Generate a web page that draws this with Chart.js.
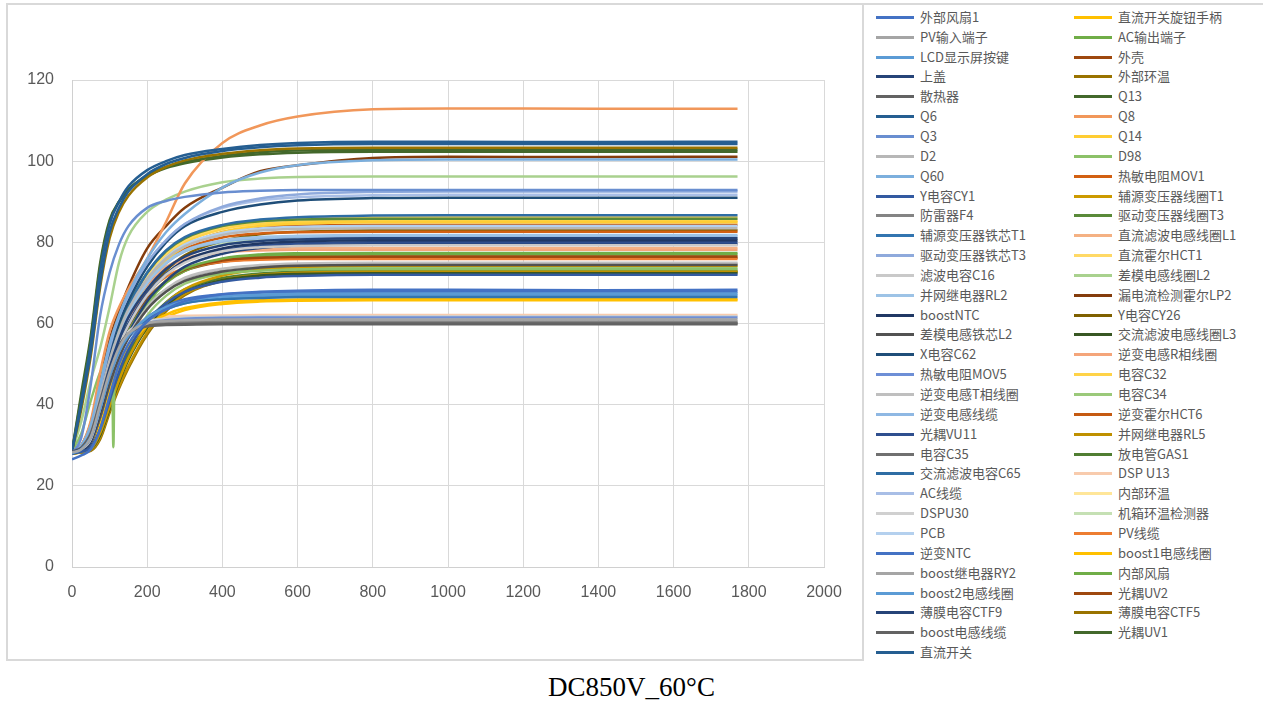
<!DOCTYPE html>
<html>
<head>
<meta charset="utf-8">
<script src="https://cdn.jsdelivr.net/npm/chart.js@4.4.1/dist/chart.umd.min.js"></script>
<style>
  body { margin: 0; background: #fff; width: 1263px; height: 707px; overflow: hidden; position: relative; }
  #frame { position: absolute; left: 6px; top: 3px; width: 858px; height: 658px; border: 2px solid #d9d9d9; box-sizing: border-box; }
  #topline { position: absolute; left: 864px; top: 3px; width: 399px; height: 2px; background: #d9d9d9; }
  #wrap { position: absolute; left: 0; top: 0; width: 863px; height: 660px; }
  #legend { position: absolute; left: 0; top: 0; }
  .sw { position: absolute; width: 38px; height: 3px; }
  .lt { position: absolute; font: 13px "Noto Sans CJK SC", sans-serif; color: #595959; line-height: 18px; white-space: nowrap; }
  #caption { position: absolute; left: 0; width: 1263px; top: 674px; text-align: center; font: 27px "Liberation Serif", serif; line-height: 27px; color: #000; }
</style>
</head>
<body>
<div id="frame"></div>
<div id="topline"></div>
<div id="wrap"><canvas id="chart" width="863" height="660"></canvas></div>
<div id="legend"></div>
<div id="caption">DC850V_60°C</div>
<script>
// time axis samples (s)
const times = [0, 25, 50, 75, 100, 125, 150, 200, 250, 300, 400, 500, 600, 800, 1000, 1400, 1770];

// series names, legend order (left column then right column)
const names = [
    '外部风扇1', 'PV输入端子', 'LCD显示屏按键', '上盖', '散热器', 'Q6', 'Q3', 'D2', 'Q60', 'Y电容CY1', '防雷器F4',
    '辅源变压器铁芯T1', '驱动变压器铁芯T3', '滤波电容C16', '并网继电器RL2', 'boostNTC', '差模电感铁芯L2', 'X电容C62',
    '热敏电阻MOV5', '逆变电感T相线圈', '逆变电感线缆', '光耦VU11', '电容C35', '交流滤波电容C65', 'AC线缆', 'DSPU30',
    'PCB', '逆变NTC', 'boost继电器RY2', 'boost2电感线圈', '薄膜电容CTF9', 'boost电感线缆', '直流开关',
    '直流开关旋钮手柄', 'AC输出端子', '外壳', '外部环温', 'Q13', 'Q8', 'Q14', 'D98', '热敏电阻MOV1', '辅源变压器线圈T1',
    '驱动变压器线圈T3', '直流滤波电感线圈L1', '直流霍尔HCT1', '差模电感线圈L2', '漏电流检测霍尔LP2', 'Y电容CY26',
    '交流滤波电感线圈L3', '逆变电感R相线圈', '电容C32', '电容C34', '逆变霍尔HCT6', '并网继电器RL5', '放电管GAS1',
    'DSP U13', '内部环温', '机箱环温检测器', 'PV线缆', 'boost1电感线圈', '内部风扇', '光耦UV2', '薄膜电容CTF5', '光耦UV1'
];

const colors = [
    '#4472C4', '#A5A5A5', '#5B9BD5', '#264478', '#636363', '#255E91', '#698ED0', '#B7B7B7', '#7CAFDD', '#335AA1', '#848484',
    '#3275B0', '#8FAADC', '#C9C9C9', '#9DC3E6', '#203864', '#525252', '#1F4E79', '#6E8FD6', '#BFBFBF', '#8FB8E3', '#2F4F8F',
    '#707070', '#2E6DA4', '#A8BEE6', '#D0D0D0', '#B4D0EE', '#4472C4', '#A5A5A5', '#5B9BD5', '#264478', '#636363', '#255E91',
    '#FFC000', '#70AD47', '#9E480E', '#997300', '#43682B', '#F1975A', '#FFCD33', '#8CC168', '#D26012', '#CC9A00', '#5A8A39',
    '#F4B183', '#FFD966', '#A9D18E', '#843C0C', '#7F6000', '#385723', '#F4A57A', '#FFD348', '#9BC97A', '#C55A11', '#BF9000',
    '#507E32', '#F8CBAD', '#FFE699', '#C5E0B4', '#ED7D31', '#FFC000', '#70AD47', '#9E480E', '#997300', '#43682B'
];

// temperatures (°C) at each time sample, same order as names
const temps = [
    [26.5, 27.5, 29, 34, 42, 50, 55, 60.5, 63.5, 65.5, 67.2, 67.8, 68.1, 68.3, 68.3, 68.2, 68.3],
    [28.2, 29, 32, 40, 48, 54, 57.5, 60, 60.6, 60.8, 61, 61, 61.1, 61, 61, 61.1, 61],
    [28, 29, 32, 39, 47, 53, 57, 61.5, 64, 65.5, 66.7, 67.1, 67.3, 67.4, 67.4, 67.4, 67.4],
    [28.3, 29.2, 32, 40, 49, 56, 61.5, 68.5, 73.5, 76.5, 79.3, 80.3, 80.7, 81, 81, 81, 81],
    [28.5, 29.5, 33, 41, 49, 54.5, 57.5, 59.5, 59.8, 59.9, 60, 60, 60, 60, 60, 60, 60],
    [28.5, 41, 55, 73, 84.5, 90, 93.8, 97.8, 100, 101.5, 103, 104, 104.5, 104.8, 104.8, 104.7, 104.8],
    [28, 32, 45, 62, 72.5, 79.5, 84, 88.5, 90.2, 91.2, 92.3, 92.7, 92.9, 92.9, 92.9, 92.9, 92.9],
    [28.5, 29.5, 33, 42, 51, 58, 63.5, 71, 76, 79, 81.8, 82.9, 83.3, 83.5, 83.5, 83.5, 83.5],
    [28.5, 30, 35, 45, 55, 62, 67.5, 76, 82.5, 87, 93.5, 97.2, 99, 100.2, 100.4, 100.4, 100.4],
    [28, 28.4, 29.5, 34, 41, 48, 53.5, 60.5, 65, 67.8, 70.3, 71.3, 71.7, 72, 72, 72, 72],
    [28.3, 29.2, 32.5, 40.5, 48.5, 54, 57.5, 59.8, 60.2, 60.4, 60.5, 60.5, 60.5, 60.5, 60.5, 60.5, 60.5],
    [28, 29, 32.5, 40, 48, 53.5, 57, 61, 63.5, 65, 66, 66.3, 66.5, 66.5, 66.5, 66.5, 66.5],
    [28, 29.5, 34, 44, 54, 61.5, 67, 75, 80.5, 84.5, 88.8, 90.8, 91.8, 92.4, 92.5, 92.5, 92.5],
    [28.2, 29, 31.5, 39, 47.5, 54.5, 59.5, 67, 72, 75, 77.8, 78.8, 79.1, 79.3, 79.3, 79.3, 79.3],
    [28.5, 29.5, 32.5, 41, 50, 57, 62.5, 70, 75, 78, 80.5, 81.3, 81.6, 81.8, 81.8, 81.8, 81.8],
    [28, 28.8, 31, 38.5, 47, 54, 59.5, 67, 72, 75.5, 78.5, 79.7, 80.2, 80.5, 80.5, 80.5, 80.5],
    [28.3, 29, 31, 37, 45, 51.5, 56.5, 63.5, 67.8, 70.5, 72.8, 73.8, 74.2, 74.4, 74.4, 74.4, 74.4],
    [28.5, 29.8, 33.5, 43, 52.5, 60, 65.5, 74, 80, 84, 87.5, 89.3, 90.3, 90.9, 91, 91, 91],
    [28, 29, 32, 39.5, 47.5, 53.5, 57, 60, 60.8, 61.2, 61.4, 61.5, 61.5, 61.5, 61.5, 61.5, 61.5],
    [28.3, 29, 31, 37.5, 45.5, 52, 57, 64, 68.5, 71.3, 73.5, 74.4, 74.8, 75, 75, 75, 75],
    [28.5, 29.5, 33, 41.5, 50.5, 57.5, 62.5, 70, 74.8, 77.8, 80.2, 81, 81.3, 81.5, 81.5, 81.5, 81.5],
    [28, 28.8, 31.5, 39.5, 48, 55, 60, 67.5, 72.3, 75.3, 78, 79.2, 79.7, 80, 80, 80, 80],
    [28.5, 29.3, 32.5, 40.5, 48.5, 54, 57.3, 59.5, 59.9, 60.1, 60.2, 60.2, 60.2, 60.2, 60.2, 60.2, 60.2],
    [28.5, 29.5, 33, 42, 51, 58, 64, 72.5, 78, 81.3, 84.3, 85.6, 86.2, 86.6, 86.7, 86.7, 86.7],
    [28, 29.5, 34.5, 44.5, 54, 61, 66.5, 74.5, 80.5, 84.5, 88.5, 90.3, 91.1, 91.6, 91.7, 91.7, 91.7],
    [28.5, 29.5, 33, 41, 49, 54.5, 58, 60.5, 61.2, 61.5, 61.7, 61.8, 61.8, 61.8, 61.8, 61.8, 61.8],
    [28.5, 29.5, 33, 42, 51, 58, 63, 71, 76.3, 79.5, 82.3, 83.4, 83.8, 84, 84, 84, 84],
    [28, 28.8, 31.5, 38.5, 46.5, 52.5, 56.5, 61.5, 64.3, 66, 67.2, 67.6, 67.8, 67.8, 67.8, 67.8, 67.8],
    [28.2, 28.8, 31, 37, 45, 51.5, 56.5, 63.5, 68, 71, 73.3, 74.2, 74.5, 74.7, 74.7, 74.7, 74.7],
    [28, 29, 32, 39.5, 47.5, 53, 56.5, 61, 63.5, 65, 66.2, 66.7, 66.9, 67, 67, 67, 67],
    [28, 28.6, 30.5, 37, 45.5, 52.5, 57.5, 65.5, 70.5, 74, 77.2, 78.6, 79.2, 79.5, 79.5, 79.5, 79.5],
    [28.2, 29, 32, 40, 48, 53.5, 57, 59.3, 59.6, 59.7, 59.8, 59.8, 59.8, 59.8, 59.8, 59.8, 59.8],
    [28.5, 40, 53, 70, 82.5, 88.5, 92.5, 96.8, 99.3, 100.8, 102.5, 103.4, 103.9, 104.2, 104.2, 104.2, 104.2],
    [28, 28.5, 30, 35.5, 43, 49.5, 54, 59.5, 62.2, 63.8, 65.2, 65.7, 65.9, 66, 66, 66, 66],
    [28.2, 28.8, 31, 37.5, 45.5, 52.5, 58, 65.5, 70.5, 73.5, 76, 77, 77.3, 77.4, 77.4, 77.4, 77.4],
    [28.3, 29, 31.5, 38.5, 47, 53.5, 58.5, 66, 70.5, 73.3, 75.5, 76.2, 76.4, 76.5, 76.5, 76.5, 76.5],
    [28.5, 39, 52, 69, 81, 87.5, 91.5, 96, 98.6, 100.2, 101.8, 102.7, 103.1, 103.3, 103.3, 103.3, 103.3],
    [28.5, 42, 56, 74, 85, 90, 93, 96.5, 98.6, 99.8, 101.3, 102.2, 102.6, 102.8, 102.8, 102.8, 102.8],
    [28, 30, 36, 48, 58, 64, 68.5, 76, 85, 94.5, 104.5, 108.8, 111, 112.8, 113, 112.9, 112.9],
    [28.3, 29.2, 32, 40.5, 49.5, 56.5, 62, 70, 75.5, 79, 82.5, 84, 84.6, 85, 85, 85, 85],
    [28.5, 33, 41, 48, 52, 57, 60, 65, 68.3, 70.5, 72.3, 73, 73.3, 73.4, 73.4, 73.4, 73.4],
    [28.3, 29.3, 32.5, 41, 50, 57, 62.5, 70, 75, 78.3, 81.2, 82.2, 82.5, 82.6, 82.6, 82.6, 82.6],
    [28, 28.3, 29, 33, 39.5, 46, 51.5, 59.5, 65, 68.5, 71.8, 73.3, 73.9, 74.2, 74.2, 74.2, 74.2],
    [28.5, 29.5, 33.5, 42.5, 52, 59, 64.5, 72.5, 77.8, 81, 84, 85.2, 85.6, 85.8, 85.8, 85.8, 85.8],
    [28.3, 30, 35, 45, 54, 60, 64.5, 70.5, 74, 76, 77.8, 78.4, 78.6, 78.6, 78.6, 78.6, 78.6],
    [28.5, 29.5, 33, 42, 51.5, 58.5, 64, 72, 77.3, 80.5, 83.8, 85.2, 85.8, 86.1, 86.2, 86.2, 86.2],
    [28.5, 36, 46, 54, 64, 75, 81.5, 87.5, 90.5, 92.5, 94.8, 95.7, 96.1, 96.2, 96.2, 96.2, 96.2],
    [28.5, 30, 35.5, 46, 56, 63, 69, 78.5, 84, 88.5, 93.5, 97.5, 99, 100.8, 101.1, 101, 101.1],
    [28, 28.6, 30.5, 37.5, 46, 53.5, 59, 67.5, 73, 76.8, 80.3, 82, 82.6, 83, 83, 83, 83],
    [28, 28.3, 29, 32.5, 39, 45.5, 51, 59, 64.3, 67.8, 70.7, 71.8, 72.2, 72.4, 72.4, 72.4, 72.4],
    [28.3, 30, 34.5, 43.5, 52, 58.5, 63, 69.5, 73.5, 75.8, 77.5, 78, 78.2, 78.2, 78.2, 78.2, 78.2],
    [28.3, 29.3, 32.5, 41.5, 50.5, 57.5, 63, 71, 76.5, 80, 83.3, 84.6, 85.1, 85.3, 85.3, 85.3, 85.3],
    [28.2, 28.8, 30.5, 35.5, 42.5, 49, 54.5, 62, 66.8, 69.8, 72.3, 73.3, 73.6, 73.8, 73.8, 73.8, 73.8],
    [28.3, 29.2, 32, 40.5, 49.5, 56.5, 62, 70, 75.5, 79, 82.5, 83.7, 84.1, 84.3, 84.3, 84.3, 84.3],
    [28, 28.2, 28.8, 32, 38.7, 44.5, 49.5, 57.8, 63.5, 67.3, 70.7, 72, 72.5, 72.8, 72.8, 72.8, 72.8],
    [28, 28.3, 29.2, 33.5, 40.5, 47, 52.5, 60.3, 65.2, 68.4, 71.2, 72.3, 72.8, 73, 73, 73, 73],
    [28.5, 30, 35, 44, 52, 56.5, 59, 61.2, 61.7, 61.9, 62, 62.1, 62.1, 62.1, 62.1, 62.1, 62.1],
    [28.5, 29.5, 33, 42, 51, 58, 63.5, 71.5, 76.8, 80, 83.2, 84.3, 84.7, 84.8, 84.8, 84.8, 84.8],
    [28.5, 30, 34, 43, 52, 58.5, 63.5, 70.5, 75, 77.8, 79.8, 80.5, 80.7, 80.8, 80.8, 80.8, 80.8],
    [28.3, 29.5, 33, 42, 50.5, 57, 61.5, 67.8, 71.5, 73.7, 75.2, 75.7, 75.9, 75.9, 75.9, 75.9, 75.9],
    [28, 28.4, 29.7, 34.5, 41.5, 48, 52.5, 58.5, 61.5, 63.3, 64.8, 65.4, 65.6, 65.7, 65.7, 65.7, 65.7],
    [28.2, 28.8, 30.8, 37, 45, 52, 57.5, 65, 70, 73, 75.6, 76.6, 76.9, 77, 77, 77, 77],
    [28.3, 29, 31.2, 38, 46.5, 53, 58, 65.5, 70.2, 73, 75.2, 75.9, 76.1, 76.2, 76.2, 76.2, 76.2],
    [28, 28.2, 28.6, 31.5, 38, 44, 49, 57.3, 63, 67, 70.5, 71.8, 72.3, 72.6, 72.6, 72.6, 72.6],
    [28.5, 43, 57, 75, 85.5, 90, 93, 96.3, 98.3, 99.5, 100.9, 101.7, 102.1, 102.3, 102.3, 102.3, 102.3]
];

// sensor glitch on D98 around t = 110 s
const spikeSeries = 'D98';
const spikeTimes = [106, 110, 114];
const spikeValues = [53, 29.5, 55];

const yTicks = [0, 20, 40, 60, 80, 100, 120];
const xTicks = [0, 200, 400, 600, 800, 1000, 1200, 1400, 1600, 1800, 2000];

// build datasets
let datasets = names.map((name, i) => {
    let pts = times.map((t, j) => ({ x: t, y: temps[i][j] }));
    if (name === spikeSeries) {
        spikeTimes.forEach((t, k) => pts.push({ x: t, y: spikeValues[k] }));
        pts.sort((a, b) => a.x - b.x);
    }
    return {
        label: name,
        data: pts,
        borderColor: colors[i],
        backgroundColor: colors[i],
        borderWidth: 2.5,
        pointRadius: 0,
        fill: false,
        cubicInterpolationMode: 'monotone'
    };
});

const tickFont = { family: 'Liberation Sans', size: 16 };

const chart = new Chart(document.getElementById('chart').getContext('2d'), {
    type: 'line',
    data: { datasets: datasets },
    options: {
        responsive: false,
        animation: false,
        layout: { padding: { left: 0, right: 39, top: 80, bottom: 0 } },
        plugins: { legend: { display: false }, tooltip: { enabled: false } },
        scales: {
            x: {
                type: 'linear',
                min: xTicks[0],
                max: xTicks[xTicks.length - 1],
                afterBuildTicks: s => { s.ticks = xTicks.map(v => ({ value: v })); },
                afterFit: s => { s.height = 93; },
                grid: { color: '#d9d9d9', drawTicks: false },
                border: { color: '#d0d0d0', width: 1 },
                ticks: { color: '#595959', font: tickFont, padding: 16, maxRotation: 0, callback: v => String(v) }
            },
            y: {
                min: yTicks[0],
                max: yTicks[yTicks.length - 1],
                afterBuildTicks: s => { s.ticks = yTicks.map(v => ({ value: v })); },
                afterFit: s => { s.width = 72; },
                grid: { color: '#d9d9d9', drawTicks: false },
                border: { color: '#d0d0d0', width: 1 },
                ticks: { color: '#595959', font: tickFont, padding: 18, callback: v => String(v) }
            }
        }
    }
});

// legend: two columns on the right
function renderLegend() {
    let legend = document.getElementById('legend');
    let html = '';
    chart.data.datasets.forEach((ds, i) => {
        let col = i < 33 ? 0 : 1;
        let row = col === 0 ? i : i - 33;
        let cy = 17.3 + row * 19.85;
        let swX = col === 0 ? 876 : 1074;
        let txX = col === 0 ? 920 : 1118;
        html += `<div class="sw" style="left:${swX}px;top:${(cy - 1.5).toFixed(1)}px;background:${ds.borderColor}"></div>`;
        html += `<div class="lt" style="left:${txX}px;top:${(cy - 9.5).toFixed(1)}px">${ds.label}</div>`;
    });
    legend.innerHTML = html;
}
renderLegend();
</script>
</body>
</html>
